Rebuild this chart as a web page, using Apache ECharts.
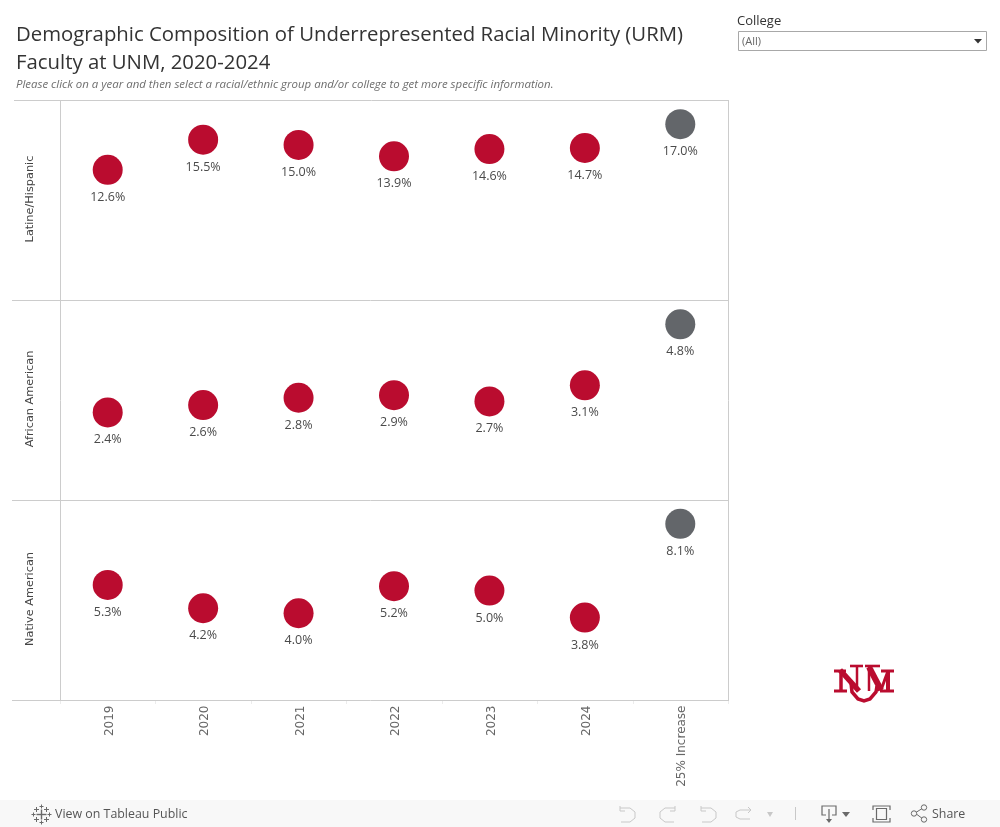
<!DOCTYPE html>
<html><head><meta charset="utf-8">
<style>html,body{margin:0;padding:0;background:#fff}#c{width:1000px;height:827px}</style>
<script src="https://cdn.jsdelivr.net/npm/echarts@6/dist/echarts.min.js"></script>
</head><body><div id="c"></div>
<script>
const categories = ['2019','2020','2021','2022','2023','2024','25% Increase'];
const groups = ['Latine/Hispanic','African American','Native American'];
const latine = [12.6,15.5,15.0,13.9,14.6,14.7,17.0];
const african = [2.4,2.6,2.8,2.87,2.7,3.14,4.8];
const native = [5.3,4.23,4.0,5.24,5.04,3.8,8.1];
const axisMax = [19.28,5.45,9.17];
const allSeries = [latine,african,native];
const RED='#ba0c2f', GREY='#63666a', LINE='#cccccc', TXT='#4a4a4a';
const chart = echarts.init(document.getElementById('c'),null,{renderer:'canvas'});
const tops=[100,300,500];
const ui = "'Open Sans'";
function line(x1,y1,x2,y2,stroke,w){return {type:'line',silent:true,shape:{x1,y1,x2,y2},style:{stroke:stroke||LINE,lineWidth:w||1,fill:null}};}
function poly(points,stroke,w){return {type:'polyline',silent:true,shape:{points},style:{stroke:stroke||'#9a9a9a',lineWidth:w||1,fill:null}};}
function txt(x,y,t,size,fill,extra){return {type:'text',silent:true,x,y,style:Object.assign({text:t,font:size+'px '+ui,fill:fill||'#555',verticalAlign:'middle'},extra||{})};}
const g=[];
// panel rules
g.push(line(14,100.5,729,100.5));
[300.5,500.5,700.5].forEach(y=>g.push(line(12,y,729,y)));
g.push(line(60.5,100,60.5,701));
g.push(line(728.5,100,728.5,701));
// band ticks under the axis
for(let i=0;i<=7;i++){const x=Math.round(60+i*95.43)+.5;g.push(line(x,701,x,704,'#ececec'));}
// filter
g.push(txt(737,21.5,'College',13,'#333'));
g.push({type:'rect',silent:true,shape:{x:738.5,y:31.5,width:248,height:19},style:{fill:'#fff',stroke:'#a8a8a8',lineWidth:1}});
g.push(txt(742,41.5,'(All)',11,'#666'));
g.push({type:'polygon',silent:true,shape:{points:[[974,39],[982,39],[978,43.5]]},style:{fill:'#333'}});
// logo
const lg=(pts,w)=>g.push({type:'polyline',silent:true,shape:{points:pts},style:{stroke:RED,lineWidth:w,fill:null}});
// U
lg([[851,683],[852,692],[858,699],[864,701],[870,699],[876,692],[877,686]],3.5);
// N
lg([[841,670],[841,691]],3.5); lg([[834,671],[846,671]],3); lg([[834,691],[847,691]],3);
lg([[840,670],[859,691]],5.5);
lg([[857,666],[857,691]],2.5); lg([[850,666],[863,666]],2.6);
// M
lg([[869,666],[869,691]],2.5); lg([[865,666],[880,666]],2.6);
lg([[869,667],[881,690]],6); lg([[881,690],[888,671]],3);
lg([[888,670],[888,691]],4); lg([[881,671],[894,671]],3); lg([[880,691],[894,691]],3);
// toolbar
g.push({type:'rect',silent:true,shape:{x:0,y:800,width:1000,height:27},style:{fill:'#f8f8f8'}});
g.push(txt(55,814,'View on Tableau Public',12.4,'#555'));
const tc='#6a6a6a';
const plus=(x,y,r,w)=>{g.push(line(x-r,y,x+r,y,tc,w));g.push(line(x,y-r,x,y+r,tc,w));};
plus(41.5,814.5,5,1.4);
[[41.5,806.5],[41.5,822.5],[33.5,814.5],[49.5,814.5]].forEach(p=>plus(p[0],p[1],2,1));
[[36.5,809.5],[46.5,809.5],[36.5,819.5],[46.5,819.5]].forEach(p=>plus(p[0],p[1],2.5,1));
const uc='#c8c8c8';
g.push(poly([[620,806],[620,811],[625,811]],uc));
g.push(poly([[620,808],[630,808],[635,812],[635,818],[630,822],[621,822]],uc));
g.push(poly([[675,806],[675,811],[670,811]],uc));
g.push(poly([[675,808],[665,808],[660,812],[660,818],[665,822],[674,822]],uc));
g.push(poly([[701,806],[701,811],[706,811]],uc));
g.push(poly([[701,808],[711,808],[716,812],[716,818],[711,822],[702,822]],uc));
g.push(poly([[750,810],[740,810],[736,812],[736,817],[740,819],[750,819]],uc));
g.push(poly([[748,807],[751,810],[748,813]],uc));
g.push({type:'polygon',silent:true,shape:{points:[[767,812],[773,812],[770,817]]},style:{fill:uc}});
g.push(line(795.5,807,795.5,820,'#c8c8c8'));
g.push(poly([[826,815],[822,815],[822,806],[836,806],[836,815],[832,815]],tc,1.2));
g.push(line(829,809,829,821,tc,1.2));
g.push({type:'polygon',silent:true,shape:{points:[[826,819],[832,819],[829,823]]},style:{fill:tc}});
g.push({type:'polygon',silent:true,shape:{points:[[842,812],[850,812],[846,817]]},style:{fill:tc}});
g.push({type:'rect',silent:true,shape:{x:876.5,y:808.5,width:10,height:11},style:{fill:'none',stroke:tc,lineWidth:1.2}});
g.push(poly([[873,810],[873,806],[890,806],[890,810]],tc,1.2));
g.push(poly([[873,818],[873,822],[890,822],[890,818]],tc,1.2));
g.push(poly([[923,808],[915,813],[923,819]],tc,1));
[[924,807.5],[914,813.5],[924,819.5]].forEach(p=>g.push({type:'circle',silent:true,shape:{cx:p[0],cy:p[1],r:2.7},style:{fill:'#f8f8f8',stroke:tc,lineWidth:1}}));
g.push(txt(932,814,'Share',12.4,'#555'));

const option={
  animation:false,
  backgroundColor:'#fff',
  title:[{text:'Demographic Composition of Underrepresented Racial Minority (URM)\nFaculty at UNM, 2020-2024',left:16,top:21,padding:0,
    textStyle:{fontFamily:"'Open Sans'",fontSize:20.35,fontWeight:500,color:'#333',lineHeight:28}},
    {text:'Please click on a year and then select a racial/ethnic group and/or college to get more specific information.',left:16,top:79,padding:0,
    textStyle:{fontFamily:"'Open Sans'",fontSize:11.45,fontStyle:'italic',fontWeight:400,color:'#6e6e6e'}}],
  grid:tops.map(t=>({left:60,width:668,top:t+.5,height:200,show:false,containLabel:false})),
  xAxis:groups.map((_,i)=>({type:'category',gridIndex:i,data:categories,
    axisLine:{show:false},axisTick:{show:false},splitLine:{show:false},
    axisLabel:{show:i===2,rotate:90,interval:0,margin:5,verticalAlign:'top',lineHeight:4,color:'#666',fontFamily:'DejaVu Sans',fontSize:12}})),
  yAxis:groups.map((n,i)=>({type:'value',gridIndex:i,min:0,max:axisMax[i],
    name:n,nameLocation:'middle',nameRotate:90,nameGap:24,nameTextStyle:{color:'#444',fontFamily:'DejaVu Sans',fontSize:11.3,padding:[0,0,0,3]},
    axisLine:{show:false},axisTick:{show:false},axisLabel:{show:false},splitLine:{show:false}})),
  series:allSeries.map((d,i)=>({type:'scatter',xAxisIndex:i,yAxisIndex:i,symbolSize:30,
    data:d.map((v,j)=>({value:v,itemStyle:{color:j===6?GREY:RED,opacity:1}})),
    label:{show:true,position:'bottom',distance:6,color:TXT,fontFamily:"'Open Sans'",fontSize:12.5,formatter:p=>p.value.toFixed(1)+'%'}})),
  graphic:{elements:g}
};
chart.setOption(option);
</script></body></html>
